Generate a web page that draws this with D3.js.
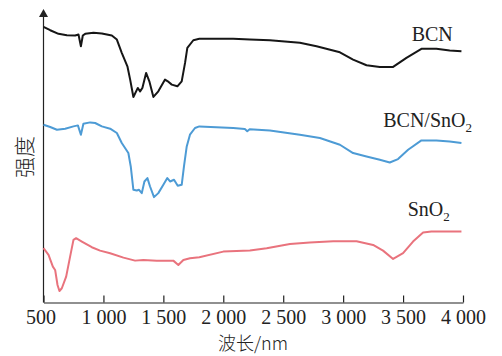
<!DOCTYPE html>
<html>
<head>
<meta charset="utf-8">
<script src="https://cdn.jsdelivr.net/npm/d3@7"></script>
<style>
  body { margin: 0; background: #fff; }
  svg { display: block; }
  .tick text { font-family: "Liberation Serif", "DejaVu Serif", serif; }
</style>
</head>
<body>
<svg width="502" height="356"></svg>
<script>
// wavenumber (cm-1) and intensity (a.u.) for each spectrum
const bcnX = [500, 556, 625, 695, 764, 792, 812, 828, 848, 917, 987, 1070, 1112, 1153, 1200, 1223, 1250, 1287, 1306, 1325, 1356, 1383, 1417, 1458, 1514, 1537, 1570, 1617, 1653, 1681, 1700, 1750, 1800, 2083, 2222, 2389, 2639, 2778, 2973, 3083, 3195, 3306, 3417, 3528, 3653, 3778, 3889, 3987]
const bcnY = [275.2, 271.8, 268.2, 266.8, 266.5, 267.5, 255.8, 266.5, 268.2, 269.2, 268.5, 266.5, 262.5, 249.2, 235.8, 222.5, 205.2, 214.2, 210.8, 214.2, 229.2, 220.8, 205.2, 210.8, 222.5, 220.8, 217.5, 215.8, 220.8, 239.2, 254.2, 261.8, 263.2, 263.2, 262.6, 261.8, 259.2, 255.8, 249.8, 242.5, 236.8, 235.2, 235.2, 244.2, 253.2, 253.2, 251.5, 250.8]

const compX = [500, 556, 612, 681, 750, 787, 812, 833, 889, 931, 987, 1056, 1112, 1153, 1208, 1228, 1250, 1278, 1297, 1320, 1342, 1367, 1389, 1422, 1458, 1500, 1533, 1556, 1589, 1620, 1653, 1672, 1695, 1722, 1764, 1800, 2083, 2180, 2200, 2220, 2389, 2639, 2806, 2973, 3083, 3195, 3306, 3389, 3458, 3542, 3653, 3778, 3889, 3987]
const compY = [177.5, 175.2, 172.5, 173.5, 175.8, 176.8, 167.5, 178.5, 179.8, 179.2, 175.8, 173.5, 169.2, 159.2, 149.2, 135.8, 112.5, 111.8, 112.5, 109.2, 120.8, 124.2, 115.8, 105.2, 109.2, 117.5, 124.2, 120.8, 122.5, 116.5, 117.5, 135.8, 155.8, 167.5, 174.2, 175.8, 174.2, 173.2, 171.0, 173.0, 171.8, 167.5, 164.2, 157.5, 149.2, 145.8, 142.5, 139.8, 143.2, 152.5, 161.8, 161.8, 160.8, 159.2]

const snoX = [500, 542, 578, 597, 617, 633, 653, 689, 722, 750, 772, 820, 903, 972, 1056, 1167, 1264, 1333, 1445, 1583, 1625, 1667, 1722, 1800, 2000, 2222, 2362, 2556, 2722, 2917, 3112, 3250, 3333, 3417, 3500, 3583, 3667, 3736, 3987]
const snoY = [54.2, 47.5, 35.8, 32.5, 17.5, 11.5, 14.2, 25.8, 45.8, 62.5, 64.2, 60.8, 55.2, 51.8, 49.2, 44.8, 41.8, 42.5, 41.8, 41.8, 37.5, 42.5, 44.2, 45.2, 50.8, 51.8, 54.2, 58.5, 59.8, 61.2, 61.2, 57.5, 51.8, 43.5, 49.2, 60.8, 69.8, 70.8, 70.8]

const xTicks = [500, 1000, 1500, 2000, 2500, 3000, 3500, 4000]

// label anchors (right end of each label, in data units)
const series = [
  {name: 'BCN', xs: bcnX, ys: bcnY, color: '#161616', lx: 3915, ly: 261},
  {name: 'BCN/SnO', sub: '2', xs: compX, ys: compY, color: '#4d9bd5', lx: 4075, ly: 175},
  {name: 'SnO', sub: '2', xs: snoX, ys: snoY, color: '#e9737d', lx: 3890, ly: 86}
]

const svg = d3.select('svg')
const margin = {top: 12, right: 39, bottom: 53.5, left: 43.5}
const width = 502 - margin.left - margin.right
const height = 356 - margin.top - margin.bottom
const g = svg.append('g').attr('transform', 'translate(' + margin.left + ',' + margin.top + ')')

const x = d3.scaleLinear().domain([500, 4000]).range([0, width])
const y = d3.scaleLinear().domain([0, 290]).range([height, 0])

// x axis, ticks pointing inward
const xAxis = g.append('g')
  .attr('transform', 'translate(0,' + height + ')')
  .call(d3.axisBottom(x).tickValues(xTicks).tickSizeInner(-7).tickSizeOuter(0)
    .tickFormat(d => d3.format(',')(d).replace(',', ' ')))
xAxis.select('.domain').attr('stroke', '#222').attr('stroke-width', 1.2)
xAxis.selectAll('.tick line').attr('stroke', '#222').attr('stroke-width', 1.2)
xAxis.selectAll('.tick text')
  .attr('y', 7)
  .attr('fill', '#222')
  .style('font-size', '20px')
xAxis.select('.tick text').attr('dx', -3)

// y axis: plain line with an arrow head
g.append('line')
  .attr('x1', 0).attr('x2', 0)
  .attr('y1', height).attr('y2', 2)
  .attr('stroke', '#222').attr('stroke-width', 1.2)
g.append('path')
  .attr('d', 'M0,-3L-4.5,5L4.5,5Z')
  .attr('fill', '#222')

const line = d3.line()
  .x(d => x(d[0]))
  .y(d => y(d[1]))
  .curve(d3.curveLinear)

series.forEach(s => {
  const pts = s.xs.map((v, i) => [v, s.ys[i]])
  g.append('path')
    .datum(pts)
    .attr('fill', 'none')
    .attr('stroke', s.color)
    .attr('stroke-width', 2)
    .attr('stroke-linejoin', 'round')
    .attr('d', line)

  const t = g.append('text')
    .attr('x', x(s.lx))
    .attr('y', y(s.ly))
    .attr('text-anchor', 'end')
    .attr('fill', '#222')
    .style('font-family', '"Liberation Serif", serif')
    .style('font-size', '20px')
    .text(s.name)
  if (s.sub) {
    t.append('tspan')
      .attr('dy', 5)
      .style('font-size', '13px')
      .text(s.sub)
  }
})

// axis titles
svg.append('text')
  .attr('transform', 'translate(32,157) rotate(-90)')
  .attr('text-anchor', 'middle')
  .attr('fill', '#222')
  .style('font-family', '"Noto Sans CJK SC", sans-serif')
  .style('font-weight', 300)
  .style('font-size', '21px')
  .text('强度')

svg.append('text')
  .attr('x', 253)
  .attr('y', 350)
  .attr('text-anchor', 'middle')
  .attr('fill', '#222')
  .style('font-family', '"Noto Sans CJK SC", "Liberation Serif", serif')
  .style('font-weight', 300)
  .style('font-size', '18px')
  .text('波长/nm')
</script>
</body>
</html>
